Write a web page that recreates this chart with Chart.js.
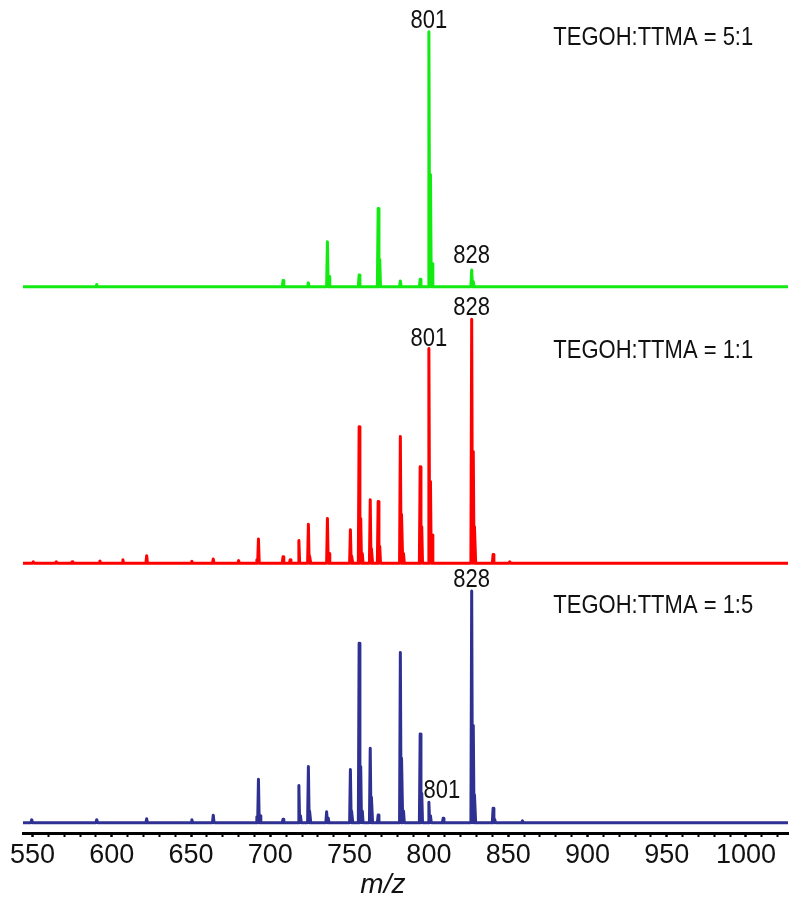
<!DOCTYPE html>
<html>
<head>
<meta charset="utf-8">
<title>TEGOH:TTMA spectra</title>
<script src="https://cdn.jsdelivr.net/npm/chart.js@4.4.1/dist/chart.umd.min.js"></script>
<style>
    html, body { margin: 0; padding: 0; background: #ffffff; }
</style>
</head>
<body>
<canvas id="spectra" width="800" height="905"></canvas>
<script>
// Peak lists: m/z and relative intensity (%)
const greenMz  = [590.5, 708, 724, 736, 737, 756, 768, 769, 782, 794.5, 800, 801, 802, 827, 828];
const greenInt = [0.8, 2.4, 1.5, 17.6, 4, 4.6, 30.7, 10.7, 2.2, 2.9, 100, 44, 9, 6.5, 2];

const redMz  = [550.5, 565, 575, 592.5, 607, 622, 650.5, 664, 680, 691.5, 692.5, 708, 712.5, 718, 724, 725,
                736, 737, 750.5, 751.5, 756, 757, 758, 763, 764, 768, 769, 782, 783, 784, 794.5, 795.5,
                800, 801, 802, 827, 828, 829, 840.5, 851];
const redInt = [0.6, 0.6, 0.6, 0.9, 1.4, 3.1, 0.8, 1.8, 1.1, 1.5, 10, 2.7, 1.4, 9.3, 16, 3,
                18.4, 4, 13.7, 3, 56, 18.4, 4, 26, 6, 25.3, 7, 52, 20, 4, 39.6, 15,
                88, 33.5, 11.6, 100, 45.8, 15, 3.6, 0.6];

const blueMz  = [549.5, 590.5, 622, 650.5, 664, 691.5, 692.5, 693.5, 708, 718, 719, 724, 725, 735.5, 736.5,
                 750.5, 751.5, 756, 757, 758, 763, 764, 768, 782, 783, 784, 794.5, 795.5, 800, 801, 809,
                 827, 828, 829, 840.5, 841.5, 859];
const blueInt = [1.3, 1.3, 1.7, 1.3, 3.2, 2.6, 18.7, 3, 1.5, 16, 3, 24.2, 5, 4.7, 2,
                 23, 5, 77.4, 24.2, 5, 32.1, 11, 3.3, 73.5, 27.8, 5, 38.3, 12.7, 8.8, 3, 1.9,
                 100, 42, 12, 6.2, 1.5, 0.8];

// Axis tick labels shown every 50 m/z
const tickLabels = [550, 600, 650, 700, 750, 800, 850, 900, 950, 1000];

const mzMin = 544;
const mzMax = 1026.5;

// Turn a peak list into a stick spectrum line (baseline - apex - baseline)
function stickProfile(mz, inten) {
    const pts = [{ x: mzMin, y: 0 }];
    mz.forEach((m, i) => {
        pts.push({ x: m - 0.5, y: 0 }, { x: m, y: inten[i] }, { x: m + 0.5, y: 0 });
    });
    pts.push({ x: mzMax, y: 0 });
    return pts;
}

// Panel captions and peak tags
const panels = [
    { axis: 'yGreen', caption: 'TEGOH:TTMA = 5:1', captionAt: 94.8, mz: greenMz, inten: greenInt,
      tags: [{ at: 801, gap: 4 }, { at: 828, gap: 7 }] },
    { axis: 'yRed', caption: 'TEGOH:TTMA = 1:1', captionAt: 84.3, mz: redMz, inten: redInt,
      tags: [{ at: 828, gap: 4 }, { at: 801, gap: 3 }] },
    { axis: 'yBlue', caption: 'TEGOH:TTMA = 1:5', captionAt: 90.3, mz: blueMz, inten: blueInt,
      tags: [{ at: 828, gap: 4 }, { at: 801, gap: 4, dx: 13 }] }
];

const textFont = '"Liberation Sans", Arial, sans-serif';
const textStretch = 1.2;

function drawStretched(ctx, text, x, y, align) {
    ctx.save();
    ctx.translate(x, y);
    ctx.scale(1, textStretch);
    ctx.textAlign = align;
    ctx.textBaseline = 'alphabetic';
    ctx.fillText(text, 0, 0);
    ctx.restore();
}

// Draws the captions, peak tags and the m/z axis title
const panelText = {
    id: 'panelText',
    afterDraw(chart) {
        const ctx = chart.ctx;
        const xs = chart.scales.x;
        ctx.save();
        ctx.fillStyle = '#111111';
        ctx.font = '22px ' + textFont;
        panels.forEach(p => {
            const ys = chart.scales[p.axis];
            drawStretched(ctx, p.caption, xs.getPixelForValue(878.5), ys.getPixelForValue(p.captionAt), 'left');
            p.tags.forEach(tag => {
                // highest peak within 1.5 of the tagged mass
                let best = -1;
                p.mz.forEach((m, i) => {
                    if (Math.abs(m - tag.at) <= 1.5 && (best < 0 || p.inten[i] > p.inten[best])) best = i;
                });
                if (best < 0) return;
                const px = xs.getPixelForValue(p.mz[best]) + (tag.dx || 0);
                const py = ys.getPixelForValue(p.inten[best]) - tag.gap;
                drawStretched(ctx, String(tag.at), px, py, 'center');
            });
        });
        ctx.font = 'italic 28px ' + textFont;
        ctx.textAlign = 'center';
        ctx.textBaseline = 'alphabetic';
        ctx.fillText('m/z', xs.getPixelForValue(771), xs.top + 60);
        ctx.restore();
    }
};

const ctx = document.getElementById('spectra').getContext('2d');
new Chart(ctx, {
    type: 'line',
    data: {
        datasets: [
            { label: '5:1', data: stickProfile(greenMz, greenInt), yAxisID: 'yGreen', borderColor: '#12ea12' },
            { label: '1:1', data: stickProfile(redMz, redInt), yAxisID: 'yRed', borderColor: '#ff0000' },
            { label: '1:5', data: stickProfile(blueMz, blueInt), yAxisID: 'yBlue', borderColor: '#2e3192' }
        ]
    },
    options: {
        responsive: false,
        animation: false,
        events: [],
        layout: { padding: { top: 8, left: 23, right: 12, bottom: 31.6 } },
        elements: {
            line: { borderWidth: 3, tension: 0, fill: false, borderJoinStyle: 'round', borderCapStyle: 'round' },
            point: { radius: 0 }
        },
        plugins: {
            legend: { display: false },
            tooltip: { enabled: false }
        },
        scales: {
            x: {
                type: 'linear',
                position: 'bottom',
                min: mzMin,
                max: mzMax,
                border: { color: '#000000', width: 3 },
                grid: {
                    drawOnChartArea: false,
                    drawTicks: true,
                    tickLength: 4,
                    tickColor: '#000000',
                    tickWidth: c => (c.tick && tickLabels.includes(c.tick.value)) ? 2.5 : 2
                },
                ticks: {
                    stepSize: 10,
                    includeBounds: false,
                    autoSkip: false,
                    maxRotation: 0,
                    minRotation: 0,
                    padding: 2,
                    color: '#111111',
                    font: { family: textFont, size: 27 },
                    callback: v => tickLabels.includes(v) ? String(v) : ''
                }
            },
            // three stacked, hidden intensity axes (top to bottom: green, red, blue)
            yGreen: { type: 'linear', position: 'left', display: false, stack: 'panels', stackWeight: 288, weight: 3, min: -3.65, max: 109.29 },
            yRed:   { type: 'linear', position: 'left', display: false, stack: 'panels', stackWeight: 277, weight: 2, min: -3.98, max: 109.55 },
            yBlue:  { type: 'linear', position: 'left', display: false, stack: 'panels', stackWeight: 260, weight: 1, min: -4.45, max: 107.77 }
        }
    },
    plugins: [panelText]
});
</script>
</body>
</html>
